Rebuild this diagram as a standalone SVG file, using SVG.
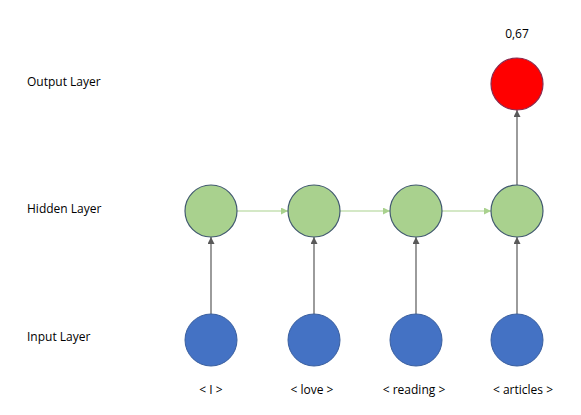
<svg xmlns="http://www.w3.org/2000/svg" width="581" height="415" viewBox="0 0 581 415">
<style>
text{font-family:"Open Sans","Liberation Sans",sans-serif;font-size:12px;fill:#000}
.mid{text-anchor:middle}
.hid{fill:#A9D18E;stroke:#41596F;stroke-width:1.2}
.inp{fill:#4472C4;stroke:#3A5F9F;stroke-width:1}
.out{fill:#FF0000;stroke:#8A2B4F;stroke-width:1.2}
.v{stroke:#595959;stroke-width:1.2;fill:none;marker-end:url(#ag)}
.h{stroke:#A9D18E;stroke-width:1.2;fill:none;marker-end:url(#ah)}
</style>
<defs>
<marker id="ag" viewBox="0 0 10 10" refX="10" refY="5" markerWidth="7" markerHeight="7" markerUnits="userSpaceOnUse" orient="auto"><path d="M0,0L10,5L0,10z" fill="#595959"/></marker>
<marker id="ah" viewBox="0 0 10 10" refX="10" refY="5" markerWidth="7" markerHeight="7" markerUnits="userSpaceOnUse" orient="auto"><path d="M0,0L10,5L0,10z" fill="#A9D18E"/></marker>
</defs>
<rect width="581" height="415" fill="#fff"/>
<g id="labels">
<text x="27" y="86">Output Layer</text>
<text x="27" y="213">Hidden Layer</text>
<text x="27" y="341">Input Layer</text>
</g>
<g id="connectors">
<line class="v" x1="211" y1="314" x2="211" y2="237"/>
<line class="v" x1="314" y1="314" x2="314" y2="237"/>
<line class="v" x1="416" y1="314" x2="416" y2="237"/>
<line class="v" x1="517" y1="314" x2="517" y2="237"/>
<line class="v" x1="517" y1="185" x2="517" y2="110"/>
<line class="h" x1="237" y1="211" x2="288" y2="211"/>
<line class="h" x1="340" y1="211" x2="390" y2="211"/>
<line class="h" x1="442" y1="211" x2="491" y2="211"/>
</g>
<g id="out1"><circle class="out" cx="517" cy="84" r="26"/><text class="mid" x="517" y="38">0,67</text></g>
<g id="h1"><circle class="hid" cx="211" cy="211" r="26"/></g>
<g id="h2"><circle class="hid" cx="314" cy="211" r="26"/></g>
<g id="h3"><circle class="hid" cx="416" cy="211" r="26"/></g>
<g id="h4"><circle class="hid" cx="517" cy="211" r="26"/></g>
<g id="i1"><circle class="inp" cx="211" cy="340" r="26"/><text class="mid" x="211" y="394">&lt; I &gt;</text></g>
<g id="i2"><circle class="inp" cx="314" cy="340" r="26"/><text class="mid" x="312" y="394">&lt; love &gt;</text></g>
<g id="i3"><circle class="inp" cx="416" cy="340" r="26"/><text class="mid" x="414" y="394">&lt; reading &gt;</text></g>
<g id="i4"><circle class="inp" cx="517" cy="340" r="26"/><text class="mid" x="523" y="394">&lt; articles &gt;</text></g>
</svg>
